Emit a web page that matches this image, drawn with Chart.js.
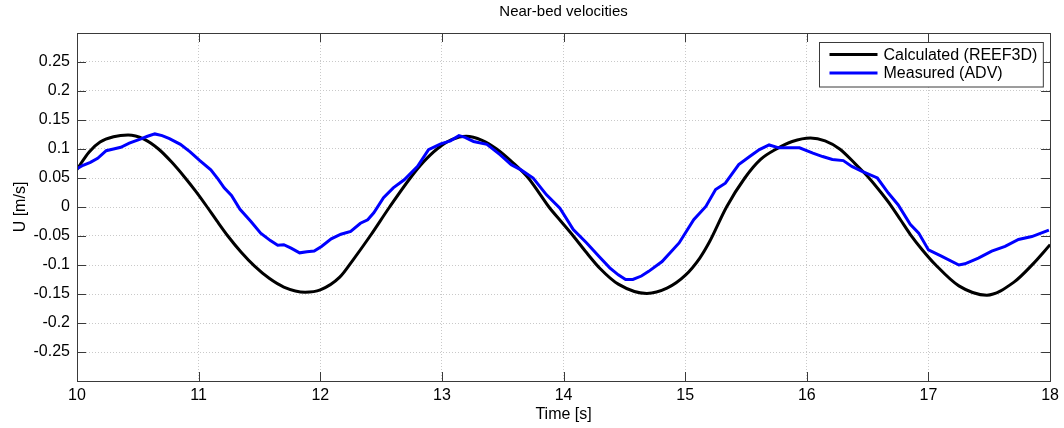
<!DOCTYPE html>
<html>
<head>
<meta charset="utf-8">
<script src="https://cdn.jsdelivr.net/npm/chart.js@4.4.0/dist/chart.umd.min.js"></script>
<style>
  html, body { margin: 0; padding: 0; background: #fff; }
</style>
</head>
<body>
<canvas id="c" width="1064" height="428"></canvas>
<script>
// values
const tCalc = [10.00, 10.10, 10.19, 10.30, 10.42, 10.55, 10.67, 10.78, 10.89, 10.98,
  11.07, 11.15, 11.24, 11.35, 11.46, 11.58, 11.70, 11.875, 12.00, 12.16,
  12.27, 12.41, 12.57, 12.74, 12.85, 12.96, 13.08, 13.20, 13.33, 13.45,
  13.58, 13.71, 13.80, 13.88, 13.98, 14.08, 14.19, 14.30, 14.45, 14.685,
  14.85, 15.00, 15.12, 15.20, 15.34, 15.49, 15.62, 15.75, 15.88, 16.03,
  16.15, 16.27, 16.40, 16.52, 16.61, 16.69, 16.77, 16.85, 16.95, 17.06,
  17.25, 17.48, 17.70, 17.86, 18.00];
const uCalc = [0.065, 0.095, 0.112, 0.121, 0.124, 0.117, 0.100, 0.077, 0.050, 0.026,
  0.000, -0.024, -0.050, -0.078, -0.102, -0.123, -0.138, -0.147, -0.143, -0.121,
  -0.091, -0.050, 0.000, 0.050, 0.078, 0.100, 0.116, 0.122, 0.115, 0.100,
  0.077, 0.050, 0.024, 0.000, -0.025, -0.050, -0.079, -0.106, -0.133, -0.149,
  -0.140, -0.118, -0.088, -0.060, 0.000, 0.050, 0.082, 0.100, 0.113, 0.119,
  0.114, 0.100, 0.074, 0.048, 0.025, 0.003, -0.022, -0.047, -0.074, -0.100,
  -0.136, -0.152, -0.130, -0.098, -0.065];

const tMeas = [10.00, 10.05, 10.11, 10.17, 10.24, 10.30, 10.36, 10.43, 10.52, 10.58,
  10.64, 10.70, 10.76, 10.85, 10.93, 11.01, 11.10, 11.16, 11.21, 11.27,
  11.34, 11.43, 11.51, 11.59, 11.65, 11.70, 11.76, 11.83, 11.89, 11.95,
  12.01, 12.09, 12.17, 12.25, 12.33, 12.39, 12.44, 12.52, 12.60, 12.69,
  12.80, 12.89, 12.99, 13.07, 13.14, 13.19, 13.26, 13.37, 13.48, 13.57,
  13.65, 13.75, 13.86, 13.97, 14.08, 14.19, 14.29, 14.38, 14.45, 14.51,
  14.57, 14.64, 14.70, 14.81, 14.95, 15.07, 15.17, 15.25, 15.33, 15.44,
  15.53, 15.61, 15.69, 15.77, 15.85, 15.94, 16.05, 16.13, 16.21, 16.30,
  16.37, 16.45, 16.58, 16.67, 16.75, 16.85, 16.92, 17.00, 17.11, 17.25,
  17.30, 17.41, 17.52, 17.63, 17.74, 17.85, 17.99];
const uMeas = [0.066, 0.072, 0.077, 0.084, 0.097, 0.100, 0.103, 0.110, 0.117, 0.122,
  0.126, 0.123, 0.118, 0.108, 0.095, 0.080, 0.064, 0.048, 0.033, 0.020,
  -0.004, -0.025, -0.045, -0.058, -0.066, -0.065, -0.071, -0.079, -0.077, -0.076,
  -0.068, -0.055, -0.047, -0.042, -0.028, -0.022, -0.010, 0.016, 0.033, 0.047,
  0.070, 0.099, 0.109, 0.114, 0.123, 0.120, 0.113, 0.108, 0.090, 0.073,
  0.064, 0.050, 0.021, -0.002, -0.039, -0.062, -0.085, -0.105, -0.117, -0.125,
  -0.125, -0.119, -0.111, -0.094, -0.062, -0.022, 0.001, 0.030, 0.041, 0.073,
  0.087, 0.099, 0.107, 0.102, 0.102, 0.102, 0.093, 0.087, 0.082, 0.080,
  0.070, 0.062, 0.050, 0.024, 0.004, -0.030, -0.045, -0.074, -0.085, -0.100,
  -0.098, -0.088, -0.076, -0.068, -0.056, -0.051, -0.040];

const xTicks = [10, 11, 12, 13, 14, 15, 16, 17, 18];
const yTicks = [-0.25, -0.2, -0.15, -0.1, -0.05, 0, 0.05, 0.1, 0.15, 0.2, 0.25];

const FONT = "'Liberation Sans', Arial, sans-serif";
const AXIS_COLOR = "#3a3a3a";

const pts = (xs, ys) => xs.map((x, i) => ({ x, y: ys[i] }));

// MATLAB-style box with inward ticks on all four sides
const framePlugin = {
  id: "frame",
  afterDatasetsDraw(chart) {
    const { ctx, chartArea: a, scales } = chart;
    const len = 9;
    ctx.save();
    ctx.strokeStyle = AXIS_COLOR;
    ctx.lineWidth = 1;
    ctx.beginPath();
    xTicks.forEach(v => {
      const px = Math.round(scales.x.getPixelForValue(v)) + 0.5;
      ctx.moveTo(px, a.bottom); ctx.lineTo(px, a.bottom - len);
      ctx.moveTo(px, a.top); ctx.lineTo(px, a.top + len);
    });
    yTicks.forEach(v => {
      const py = Math.round(scales.y.getPixelForValue(v)) + 0.5;
      ctx.moveTo(a.left, py); ctx.lineTo(a.left + len, py);
      ctx.moveTo(a.right, py); ctx.lineTo(a.right - len, py);
    });
    ctx.stroke();
    ctx.strokeRect(Math.round(a.left) + 0.5, Math.round(a.top) + 0.5,
      Math.round(a.right - a.left), Math.round(a.bottom - a.top));
    ctx.restore();
  }
};

// boxed legend in the upper right corner of the axes
const legendPlugin = {
  id: "boxLegend",
  afterDraw(chart) {
    const { ctx, chartArea: a } = chart;
    const sets = chart.data.datasets;
    ctx.save();
    ctx.font = "16px " + FONT;
    const textW = Math.max(...sets.map(d => ctx.measureText(d.label).width));
    const lineLen = 48, rowH = 18.5;
    const w = 10 + lineLen + 6 + textW + 6;
    const h = 44.5;
    const x0 = Math.round(a.right - 7 - w) + 0.5;
    const y0 = Math.round(a.top + 9) + 0.5;
    ctx.fillStyle = "#fff";
    ctx.fillRect(x0, y0, w, h);
    ctx.strokeStyle = AXIS_COLOR;
    ctx.lineWidth = 1;
    ctx.strokeRect(x0, y0, w, h);
    sets.forEach((d, i) => {
      const cy = y0 + 12 + i * rowH;
      ctx.strokeStyle = d.borderColor;
      ctx.lineWidth = d.borderWidth;
      ctx.beginPath();
      ctx.moveTo(x0 + 10, cy); ctx.lineTo(x0 + 10 + lineLen, cy);
      ctx.stroke();
      ctx.fillStyle = "#000";
      ctx.textBaseline = "middle";
      ctx.fillText(d.label, x0 + 10 + lineLen + 6, cy + 1);
    });
    ctx.restore();
  }
};

new Chart(document.getElementById("c"), {
  type: "line",
  data: {
    datasets: [
      {
        label: "Calculated (REEF3D)",
        data: pts(tCalc, uCalc),
        borderColor: "#000000",
        borderWidth: 3,
        pointRadius: 0,
        cubicInterpolationMode: "monotone",
        order: 1
      },
      {
        label: "Measured (ADV)",
        data: pts(tMeas, uMeas),
        borderColor: "#0000ff",
        borderWidth: 3,
        pointRadius: 0,
        tension: 0,
        order: 0
      }
    ]
  },
  options: {
    responsive: false,
    animation: false,
    layout: { padding: { left: 11, right: 2, top: 0, bottom: 0 } },
    plugins: {
      legend: { display: false },
      tooltip: { enabled: false },
      title: {
        display: true,
        text: "Near-bed velocities",
        fullSize: false,
        color: "#000",
        font: { family: FONT, size: 15, weight: "normal", lineHeight: 1.2 },
        padding: { top: 3, bottom: 12 }
      }
    },
    scales: {
      x: {
        type: "linear",
        min: 10, max: 18,
        afterBuildTicks: (s) => { s.ticks = xTicks.map(v => ({ value: v })); },
        afterFit: (s) => { s.height = 47; },
        ticks: { color: "#000", padding: 5, maxRotation: 0, font: { family: FONT, size: 16 } },
        grid: { color: "#c9c9c9", lineWidth: 1, drawTicks: false },
        border: { display: false, dash: [1, 2] },
        title: { display: true, text: "Time [s]", color: "#000", font: { family: FONT, size: 16 }, padding: { top: 0, bottom: 4 } }
      },
      y: {
        min: -0.3, max: 0.3,
        afterBuildTicks: (s) => { s.ticks = yTicks.map(v => ({ value: v })); },
        afterFit: (s) => { s.width = 66; },
        ticks: {
          color: "#000", padding: 7, font: { family: FONT, size: 16 },
          callback: (v) => String(parseFloat(Number(v).toFixed(2)))
        },
        grid: { color: "#c9c9c9", lineWidth: 1, drawTicks: false },
        border: { display: false, dash: [1, 2] },
        title: { display: true, text: "U [m/s]", color: "#000", font: { family: FONT, size: 16 }, padding: 0 }
      }
    }
  },
  plugins: [framePlugin, legendPlugin]
});
</script>
</body>
</html>
